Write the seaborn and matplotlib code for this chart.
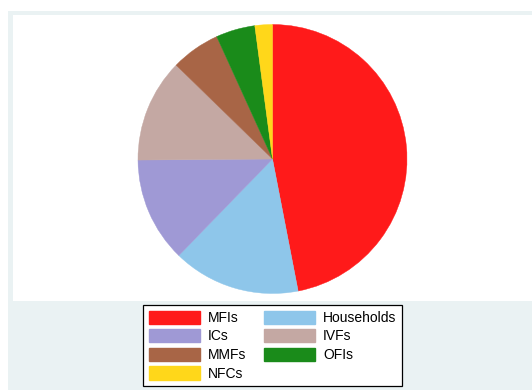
import matplotlib
matplotlib.use("Agg")
import matplotlib.pyplot as plt
from matplotlib.patches import Rectangle, Patch
import seaborn as sns

# Holdings by sector (% of total)
sectors = ["MFIs", "Households", "ICs", "IVFs", "MMFs", "OFIs", "NFCs"]
shares = [46.9, 15.3, 12.6, 12.4, 5.9, 4.7, 2.1]
colors = ["#FF1A1A", "#8EC6EA", "#9F99D5", "#C4A8A3", "#A86546", "#1A8B1A", "#FFD71A"]

sns.set_theme(style="white")
plt.rcParams["font.family"] = ["Liberation Sans", "DejaVu Sans"]
plt.rcParams["text.color"] = "black"

W, H = 532, 390
fig = plt.figure(figsize=(W / 100, H / 100), dpi=100)
fig.patch.set_facecolor("white")

def fx(px):
    return px / W

def fy(py):
    return 1 - py / H

# graph region (light band) and plot region (white)
fig.patches.append(Rectangle((fx(8), 0), 1 - fx(8), fy(11), transform=fig.transFigure,
                             facecolor="#EAF2F3", edgecolor="none", zorder=-2))
fig.patches.append(Rectangle((fx(13), fy(301)), 1 - fx(13), fy(15) - fy(301),
                             transform=fig.transFigure, facecolor="white",
                             edgecolor="none", zorder=-1))

cx, cy, r = 272.5, 159, 134.5
ax = fig.add_axes([fx(cx - r), fy(cy + r), (2 * r) / W, (2 * r) / H])
ax.set_zorder(2)
ax.set_facecolor("none")
palette = sns.color_palette(colors)
wedges, _ = ax.pie(shares, colors=palette, startangle=90, counterclock=False,
                   radius=1, wedgeprops=dict(linewidth=0.3))
for w, c in zip(wedges, palette):
    w.set_edgecolor(c)
ax.set_xlim(-1, 1)
ax.set_ylim(-1, 1)
ax.set_aspect("auto")
ax.axis("off")

# legend filled row by row in two columns
order = [0, 2, 4, 6, 1, 3, 5]
handles = [Patch(facecolor=palette[i], edgecolor=palette[i], label=sectors[i]) for i in order]
leg = fig.legend(handles=handles, loc="upper center", ncol=2,
                 bbox_to_anchor=(fx(272.5), fy(305)), fontsize=10,
                 frameon=True, fancybox=False, framealpha=1,
                 handlelength=3.7, handleheight=1.1, handletextpad=0.55,
                 columnspacing=1.3, labelspacing=0.3, borderpad=0.4,
                 borderaxespad=0)
leg.get_frame().set_edgecolor("black")
leg.get_frame().set_linewidth(0.9)
leg.set_zorder(3)

fig.savefig("out.png", dpi=100, facecolor=fig.get_facecolor())
